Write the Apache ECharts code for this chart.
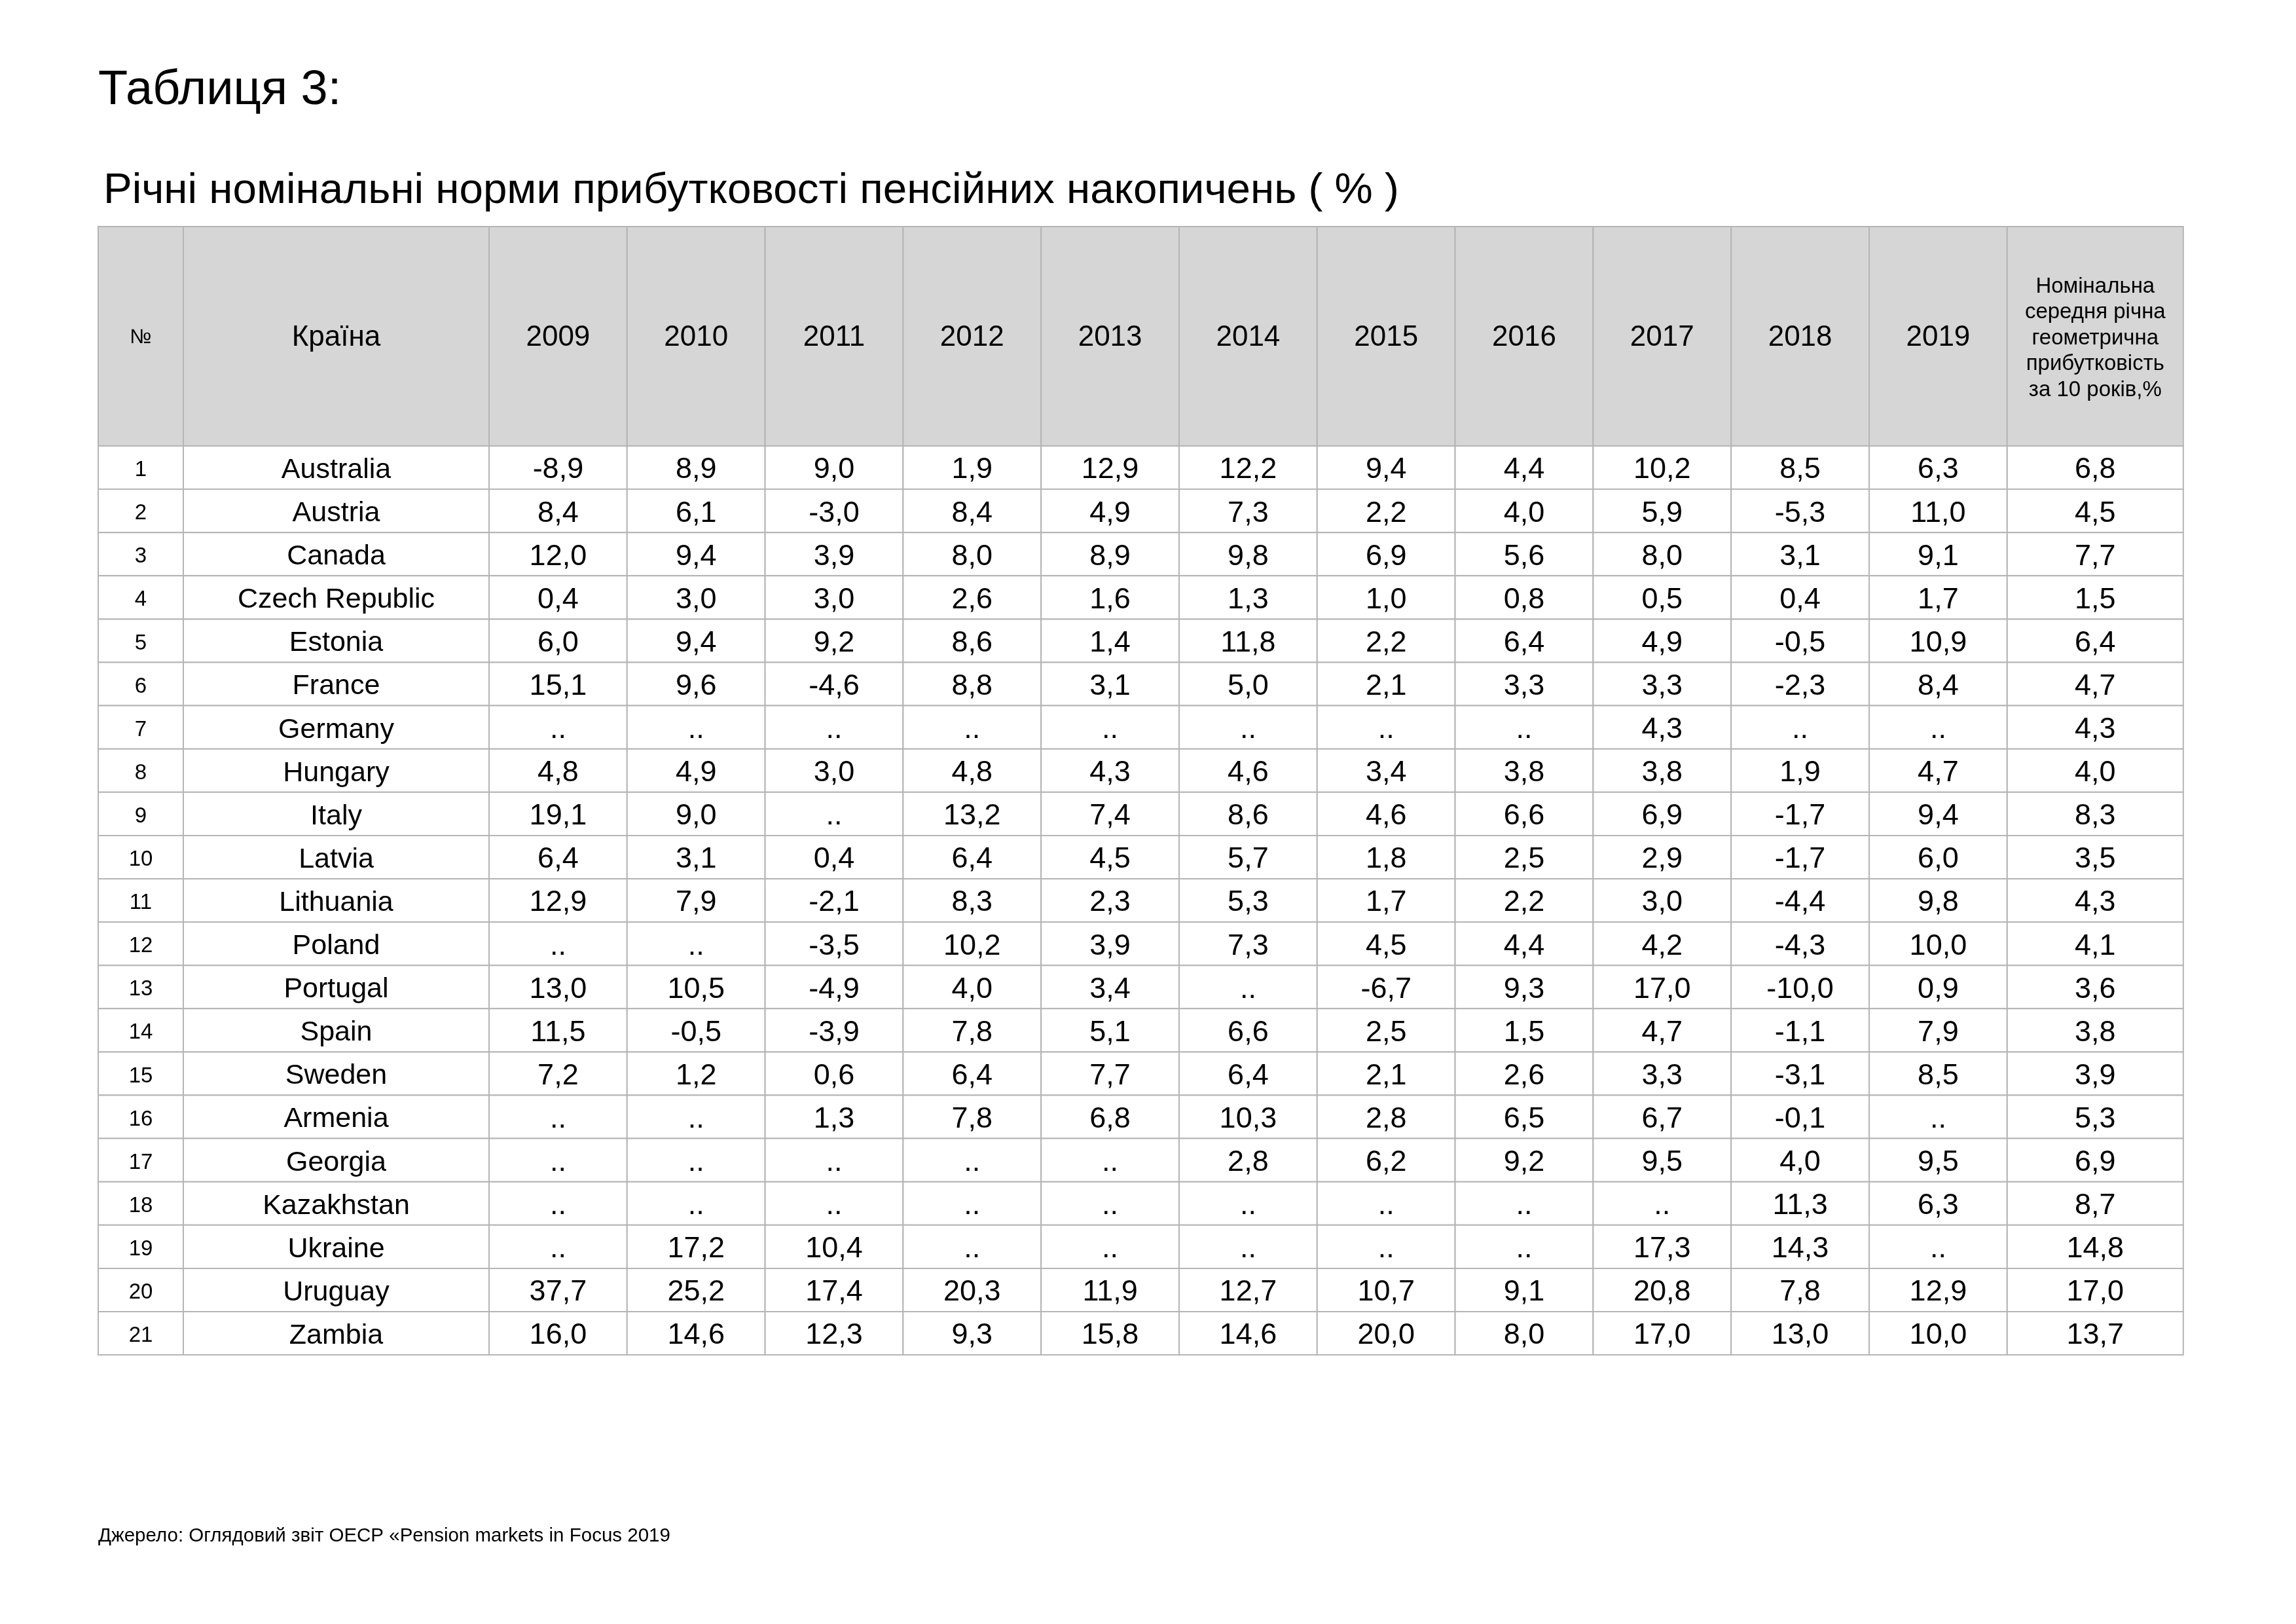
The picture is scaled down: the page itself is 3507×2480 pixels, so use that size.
<!DOCTYPE html>
<html>
<head>
<meta charset="utf-8">
<title>Таблиця 3</title>
<script src="https://cdn.jsdelivr.net/npm/echarts@6/dist/echarts.min.js"></script>
<style>
  html, body { margin: 0; padding: 0; background: #fff; }
  #chart { width: 3507px; height: 2480px; }
</style>
</head>
<body>
<div id="chart"></div>
<script>
// Дані таблиці
const countries = ['Australia', 'Austria', 'Canada', 'Czech Republic', 'Estonia', 'France', 'Germany',
  'Hungary', 'Italy', 'Latvia', 'Lithuania', 'Poland', 'Portugal', 'Spain', 'Sweden', 'Armenia',
  'Georgia', 'Kazakhstan', 'Ukraine', 'Uruguay', 'Zambia'];
const years = ['2009', '2010', '2011', '2012', '2013', '2014', '2015', '2016', '2017', '2018', '2019'];

// null = немає даних ("..")
const r2009 = [-8.9, 8.4, 12.0, 0.4, 6.0, 15.1, null, 4.8, 19.1, 6.4, 12.9, null, 13.0, 11.5, 7.2, null, null, null, null, 37.7, 16.0];
const r2010 = [8.9, 6.1, 9.4, 3.0, 9.4, 9.6, null, 4.9, 9.0, 3.1, 7.9, null, 10.5, -0.5, 1.2, null, null, null, 17.2, 25.2, 14.6];
const r2011 = [9.0, -3.0, 3.9, 3.0, 9.2, -4.6, null, 3.0, null, 0.4, -2.1, -3.5, -4.9, -3.9, 0.6, 1.3, null, null, 10.4, 17.4, 12.3];
const r2012 = [1.9, 8.4, 8.0, 2.6, 8.6, 8.8, null, 4.8, 13.2, 6.4, 8.3, 10.2, 4.0, 7.8, 6.4, 7.8, null, null, null, 20.3, 9.3];
const r2013 = [12.9, 4.9, 8.9, 1.6, 1.4, 3.1, null, 4.3, 7.4, 4.5, 2.3, 3.9, 3.4, 5.1, 7.7, 6.8, null, null, null, 11.9, 15.8];
const r2014 = [12.2, 7.3, 9.8, 1.3, 11.8, 5.0, null, 4.6, 8.6, 5.7, 5.3, 7.3, null, 6.6, 6.4, 10.3, 2.8, null, null, 12.7, 14.6];
const r2015 = [9.4, 2.2, 6.9, 1.0, 2.2, 2.1, null, 3.4, 4.6, 1.8, 1.7, 4.5, -6.7, 2.5, 2.1, 2.8, 6.2, null, null, 10.7, 20.0];
const r2016 = [4.4, 4.0, 5.6, 0.8, 6.4, 3.3, null, 3.8, 6.6, 2.5, 2.2, 4.4, 9.3, 1.5, 2.6, 6.5, 9.2, null, null, 9.1, 8.0];
const r2017 = [10.2, 5.9, 8.0, 0.5, 4.9, 3.3, 4.3, 3.8, 6.9, 2.9, 3.0, 4.2, 17.0, 4.7, 3.3, 6.7, 9.5, null, 17.3, 20.8, 17.0];
const r2018 = [8.5, -5.3, 3.1, 0.4, -0.5, -2.3, null, 1.9, -1.7, -1.7, -4.4, -4.3, -10.0, -1.1, -3.1, -0.1, 4.0, 11.3, 14.3, 7.8, 13.0];
const r2019 = [6.3, 11.0, 9.1, 1.7, 10.9, 8.4, null, 4.7, 9.4, 6.0, 9.8, 10.0, 0.9, 7.9, 8.5, null, 9.5, 6.3, null, 12.9, 10.0];
const avg10 = [6.8, 4.5, 7.7, 1.5, 6.4, 4.7, 4.3, 4.0, 8.3, 3.5, 4.3, 4.1, 3.6, 3.8, 3.9, 5.3, 6.9, 8.7, 14.8, 17.0, 13.7];

const yearColumns = [r2009, r2010, r2011, r2012, r2013, r2014, r2015, r2016, r2017, r2018, r2019];
const avgHeader = 'Номінальна\nсередня річна\nгеометрична\nприбутковість\nза 10 років,%';

// Розмітка таблиці (ширина колонок у пікселях, висота рядків в одиницях осі)
const colWidths = [130, 467].concat(years.map(() => 210.8)).concat([269]);
const rowPx = 66.1;
const headerPx = 335;
const headerUnits = headerPx / rowPx;
const FONT = '"Liberation Sans", Arial, Helvetica, sans-serif';

function fmt(v) {
  if (v === null || v === undefined) return '..';
  return v.toFixed(1).replace('.', ',');
}

// Межі колонок
const colEdges = [0];
colWidths.forEach(function(w) { colEdges.push(colEdges[colEdges.length - 1] + w); });
const totalWidth = colEdges[colEdges.length - 1];
const totalUnits = headerUnits + countries.length;

// Комірки
const cells = [];
function addCell(col, y0, y1, text, kind) {
  cells.push({ value: [colEdges[col], colEdges[col + 1], y0, y1], text: text, kind: kind });
}

addCell(0, 0, headerUnits, '№', 'hdrSmall');
addCell(1, 0, headerUnits, 'Країна', 'hdrName');
years.forEach(function(y, i) { addCell(i + 2, 0, headerUnits, y, 'hdr'); });
addCell(years.length + 2, 0, headerUnits, avgHeader, 'hdrMulti');

countries.forEach(function(name, r) {
  const y0 = headerUnits + r;
  const y1 = y0 + 1;
  addCell(0, y0, y1, String(r + 1), 'idx');
  addCell(1, y0, y1, name, 'name');
  yearColumns.forEach(function(col, i) { addCell(i + 2, y0, y1, fmt(col[r]), 'num'); });
  addCell(years.length + 2, y0, y1, fmt(avg10[r]), 'num');
});

const textStyles = {
  hdr: { fontSize: 44, lineHeight: 48, dy: 2 },
  hdrName: { fontSize: 44, lineHeight: 48, dy: 2 },
  hdrSmall: { fontSize: 31, lineHeight: 34, dy: 2 },
  hdrMulti: { fontSize: 33, lineHeight: 39.5, dy: 3 },
  idx: { fontSize: 33, lineHeight: 36, dy: 4 },
  name: { fontSize: 43, lineHeight: 46, dy: 4 },
  num: { fontSize: 45, lineHeight: 48, dy: 4 }
};

const chart = echarts.init(document.getElementById('chart'), null, { renderer: 'canvas' });

const option = {
  backgroundColor: '#ffffff',
  animation: false,
  grid: { left: 150, top: 346, width: totalWidth, height: headerPx + countries.length * rowPx },
  xAxis: { type: 'value', min: 0, max: totalWidth, show: false },
  yAxis: { type: 'value', min: 0, max: totalUnits, inverse: true, show: false },
  graphic: [
    {
      type: 'text', left: 150, top: 102,
      style: { text: 'Таблиця 3:', fill: '#000', font: '74px ' + FONT }
    },
    {
      type: 'text', left: 158, top: 259,
      style: { text: 'Річні номінальні норми прибутковості пенсійних накопичень ( % )', fill: '#000', font: '65.5px ' + FONT }
    },
    {
      type: 'text', left: 150, top: 2331,
      style: { text: 'Джерело: Оглядовий звіт OECP «Pension markets in Focus 2019', fill: '#000', font: '29.5px ' + FONT }
    }
  ],
  series: [{
    type: 'custom',
    coordinateSystem: 'cartesian2d',
    silent: true,
    data: cells,
    renderItem: function(params, api) {
      const cell = cells[params.dataIndex];
      const p0 = api.coord([api.value(0), api.value(2)]);
      const p1 = api.coord([api.value(1), api.value(3)]);
      const isHeader = cell.kind.indexOf('hdr') === 0;
      const ts = textStyles[cell.kind];
      return {
        type: 'group',
        children: [
          {
            type: 'rect',
            shape: { x: p0[0], y: p0[1], width: p1[0] - p0[0], height: p1[1] - p0[1] },
            style: { fill: isHeader ? '#d6d6d6' : '#ffffff', stroke: '#b5b5b5', lineWidth: 2 }
          },
          {
            type: 'text',
            x: (p0[0] + p1[0]) / 2,
            y: (p0[1] + p1[1]) / 2 + ts.dy,
            style: {
              text: cell.text,
              fill: '#000',
              fontSize: ts.fontSize,
              lineHeight: ts.lineHeight,
              fontFamily: FONT,
              align: 'center',
              verticalAlign: 'middle',
              textAlign: 'center',
              textVerticalAlign: 'middle'
            }
          }
        ]
      };
    }
  }]
};

chart.setOption(option);

window.addEventListener('resize', function() {
  chart.resize();
});
</script>
</body>
</html>
